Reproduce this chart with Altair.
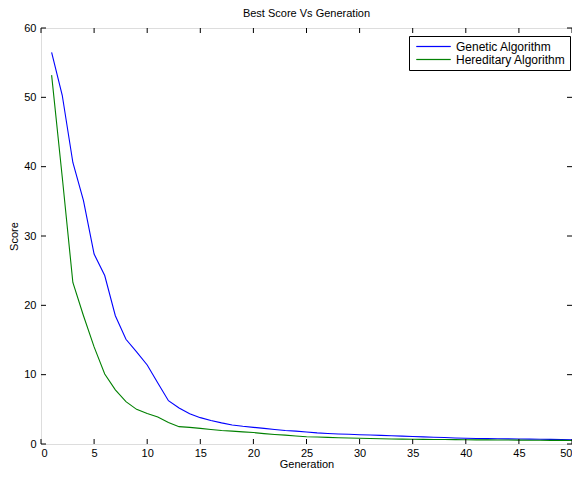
import altair as alt
import pandas as pd

generations = list(range(1, 51))
genetic = [56.5, 50.3, 40.6, 35.1, 27.4, 24.3, 18.5, 15.1, 13.3, 11.4,
           8.8, 6.25, 5.2, 4.35, 3.8, 3.4, 3.05, 2.75, 2.55, 2.4,
           2.25, 2.1, 1.95, 1.85, 1.72, 1.6, 1.52, 1.45, 1.4, 1.34,
           1.3, 1.24, 1.18, 1.13, 1.08, 1.03, 0.98, 0.93, 0.87, 0.82,
           0.8, 0.78, 0.76, 0.74, 0.72, 0.7, 0.68, 0.66, 0.64, 0.62]
hereditary = [53.2, 38.5, 23.3, 18.5, 14.0, 10.1, 7.8, 6.1, 5.0, 4.4,
              3.9, 3.1, 2.5, 2.4, 2.25, 2.1, 1.95, 1.85, 1.75, 1.65,
              1.5, 1.38, 1.28, 1.15, 1.05, 1.0, 0.95, 0.9, 0.86, 0.82,
              0.79, 0.76, 0.73, 0.7, 0.68, 0.66, 0.65, 0.64, 0.63, 0.62,
              0.6, 0.59, 0.58, 0.57, 0.56, 0.55, 0.54, 0.53, 0.52, 0.51]
series_names = ["Genetic Algorithm", "Hereditary Algorithm"]
series_colors = ["#0000FF", "#008000"]
x_ticks = list(range(0, 51, 5))
y_ticks = list(range(0, 61, 10))

df = pd.DataFrame({
    "Generation": generations * 2,
    "Score": genetic + hereditary,
    "Series": [series_names[0]] * 50 + [series_names[1]] * 50,
})
xt = pd.DataFrame({"xt": x_ticks})
yt = pd.DataFrame({"yt": y_ticks})

W, H = 531, 416
FONT = "Liberation Sans"

xscale = alt.Scale(domain=[0, 50], nice=False, zero=False)
yscale = alt.Scale(domain=[0, 60], nice=False, zero=False)

lines = alt.Chart(df).mark_line(strokeWidth=1.1, clip=True).encode(
    x=alt.X("Generation:Q", scale=xscale,
            axis=alt.Axis(values=x_ticks, ticks=False, domain=False, grid=False,
                          labelPadding=3, title="Generation", titlePadding=0,
                          labelFontSize=11, titleFontSize=11, titleFontWeight="normal",
                          labelFont=FONT, titleFont=FONT, labelColor="#000", titleColor="#000")),
    y=alt.Y("Score:Q", scale=yscale,
            axis=alt.Axis(values=y_ticks, ticks=False, domain=False, grid=False,
                          labelPadding=5, title="Score", titlePadding=4,
                          labelFontSize=11, titleFontSize=11, titleFontWeight="normal",
                          labelFont=FONT, titleFont=FONT, labelColor="#000", titleColor="#000")),
    stroke=alt.Stroke("Series:N",
                      scale=alt.Scale(domain=series_names, range=series_colors),
                      legend=alt.Legend(title=None, orient="none", legendX=368, legendY=8,
                                        symbolType="M-0.5,-0.02H5.17V0.02H-0.5Z", symbolSize=144,
                                        symbolStrokeWidth=1,
                                        strokeColor="#000", fillColor="#fff", padding=4,
                                        labelFont=FONT, labelFontSize=12, labelColor="#000",
                                        rowPadding=0, labelOffset=30, labelLimit=300)),
)

tick_len = 5
bottom_ticks = alt.Chart(xt).mark_rule(color="#000", strokeWidth=1).encode(
    x=alt.X("xt:Q", scale=xscale), y=alt.value(H), y2=alt.value(H - tick_len))
top_ticks = alt.Chart(xt).mark_rule(color="#000", strokeWidth=1).encode(
    x=alt.X("xt:Q", scale=xscale), y=alt.value(0), y2=alt.value(tick_len))
left_ticks = alt.Chart(yt).mark_rule(color="#000", strokeWidth=1).encode(
    y=alt.Y("yt:Q", scale=yscale), x=alt.value(0), x2=alt.value(tick_len))
right_ticks = alt.Chart(yt).mark_rule(color="#000", strokeWidth=1).encode(
    y=alt.Y("yt:Q", scale=yscale), x=alt.value(W), x2=alt.value(W - tick_len))

chart = alt.layer(lines, bottom_ticks, top_ticks, left_ticks, right_ticks).properties(
    width=W, height=H,
    title=alt.TitleParams("Best Score Vs Generation", font=FONT, fontSize=11,
                          fontWeight="normal", color="#000", anchor="middle", offset=3),
    autosize=alt.AutoSizeParams(type="none"),
    padding={"left": 33, "top": 20, "right": 0, "bottom": 27},
).configure_view(stroke="#000", strokeWidth=1.2).configure(background="#fff")

chart.save("out.html", embed_options={"renderer": "svg", "actions": False})
